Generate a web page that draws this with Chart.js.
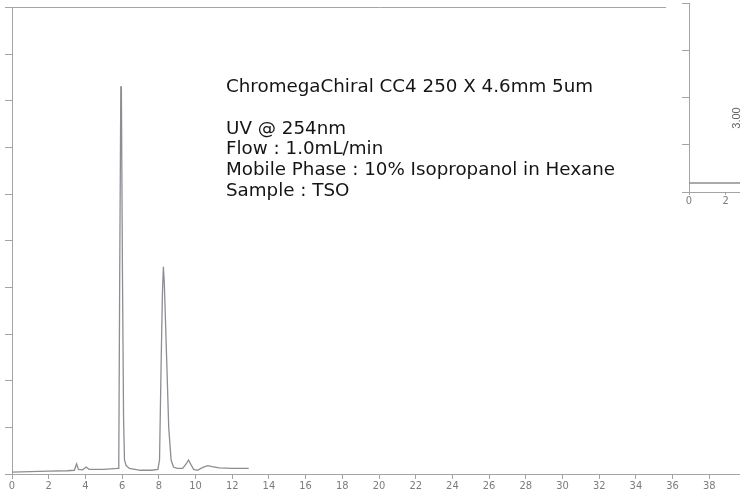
<!DOCTYPE html>
<html>
<head>
<meta charset="utf-8">
<script src="https://cdn.jsdelivr.net/npm/chart.js@4.4.1/dist/chart.umd.min.js"></script>
<style>
  html, body { margin: 0; padding: 0; background: #fff; overflow: hidden; width: 740px; height: 495px; }
  #mainChart { position: absolute; left: 0; top: 0; }
  #insetChart { position: absolute; left: 666px; top: 0; background: #fff; }
</style>
</head>
<body>
<canvas id="mainChart" width="760" height="495"></canvas>
<canvas id="insetChart" width="152" height="210"></canvas>
<script>
// main chromatogram (time in min, detector response)
const retentionTimes = [0, 1, 2, 3, 3.4, 3.52, 3.62, 3.85, 4.04, 4.2, 5.0, 5.78, 5.82, 5.87, 5.93, 5.96, 6.02, 6.08, 6.13, 6.22, 6.4,
  7.0, 7.6, 7.95, 8.04, 8.13, 8.2, 8.25, 8.3, 8.43, 8.54, 8.67, 8.8, 9.0, 9.3, 9.5, 9.62, 9.75, 9.9, 10.1, 10.4, 10.67, 10.9, 11.3, 12.0, 12.9];
const response = [0.04, 0.05, 0.06, 0.07, 0.08, 0.22, 0.10, 0.09, 0.15, 0.10, 0.10, 0.12, 0.3, 4.3, 8.3, 8.3, 4.3, 1.2, 0.3, 0.18, 0.12,
  0.08, 0.08, 0.1, 0.3, 2.45, 3.9, 4.44, 4.1, 2.45, 1.0, 0.3, 0.15, 0.12, 0.12, 0.22, 0.30, 0.2, 0.1, 0.08, 0.14, 0.18, 0.16, 0.13, 0.12, 0.12];
const timeTicks = [0, 2, 4, 6, 8, 10, 12, 14, 16, 18, 20, 22, 24, 26, 28, 30, 32, 34, 36, 38, 40];

// second (clipped) chromatogram on the right
const insetTimes = [0, 1, 2, 2.9, 3.0, 3.1];
const insetResponse = [0.19, 0.19, 0.19, 0.19, 6, 0.3];
const insetTicks = [0, 2, 4, 6];
const insetPeakTimes = [3.00];

const infoLines = [
  'ChromegaChiral CC4 250 X 4.6mm 5um',
  '',
  'UV @ 254nm',
  'Flow : 1.0mL/min',
  'Mobile Phase : 10% Isopropanol in Hexane',
  'Sample : TSO'
];

const tickFont = { family: '"Liberation Sans Narrow", "DejaVu Sans Condensed", sans-serif', size: 11 };
const axisColor = '#a4a4a4';
const traceColor = '#8c8e94';

const infoText = {
  id: 'infoText',
  afterDraw(chart) {
    const ctx = chart.ctx;
    ctx.save();
    ctx.fillStyle = '#151515';
    ctx.font = '18.3px "DejaVu Sans", Verdana, sans-serif';
    ctx.textBaseline = 'alphabetic';
    infoLines.forEach((line, i) => ctx.fillText(line, 226, 92 + i * 20.8));
    ctx.restore();
  }
};

new Chart(document.getElementById('mainChart'), {
  type: 'line',
  data: {
    datasets: [{
      data: retentionTimes.map((t, i) => ({ x: t, y: response[i] })),
      borderColor: traceColor,
      borderWidth: 1.3,
      pointRadius: 0,
      tension: 0,
      fill: false
    }]
  },
  options: {
    responsive: false,
    animation: false,
    layout: { padding: { top: 7.5, right: 14, left: 0, bottom: 0 } },
    plugins: { legend: { display: false }, tooltip: { enabled: false } },
    scales: {
      x: {
        type: 'linear', min: 0, max: 40, position: 'bottom',
        afterBuildTicks: s => { s.ticks = timeTicks.map(v => ({ value: v })); },
        afterFit: s => { s.height = 21; },
        ticks: { font: tickFont, color: '#7c7c7c', padding: 1, maxRotation: 0, autoSkip: false },
        grid: { drawOnChartArea: false, tickLength: 5, color: axisColor },
        border: { color: axisColor }
      },
      xTop: {
        type: 'linear', min: 0, max: 40, position: 'top',
        ticks: { display: false },
        grid: { drawOnChartArea: false, drawTicks: false },
        border: { color: axisColor }
      },
      y: {
        min: 0, max: 10,
        afterFit: s => { s.width = 12; },
        ticks: { display: false, stepSize: 1 },
        grid: { drawOnChartArea: false, tickLength: 7, color: axisColor },
        border: { color: axisColor }
      }
    }
  },
  plugins: [infoText]
});

const peakLabels = {
  id: 'peakLabels',
  afterDraw(chart) {
    const ctx = chart.ctx;
    const xs = chart.scales.x;
    ctx.save();
    ctx.fillStyle = '#666';
    ctx.font = '11px "Liberation Sans", Arial, sans-serif';
    ctx.textAlign = 'center';
    ctx.textBaseline = 'middle';
    insetPeakTimes.forEach(t => {
      ctx.save();
      ctx.translate(xs.getPixelForValue(t) - 7, 118);
      ctx.rotate(-Math.PI / 2);
      ctx.fillText(t.toFixed(2), 0, 0);
      ctx.restore();
    });
    ctx.restore();
  }
};

new Chart(document.getElementById('insetChart'), {
  type: 'line',
  data: {
    datasets: [{
      data: insetTimes.map((t, i) => ({ x: t, y: insetResponse[i] })),
      borderColor: traceColor,
      borderWidth: 1.3,
      pointRadius: 0,
      tension: 0,
      fill: false
    }]
  },
  options: {
    responsive: false,
    animation: false,
    layout: { padding: { top: 3, right: 1, left: 0, bottom: 0 } },
    plugins: { legend: { display: false }, tooltip: { enabled: false } },
    scales: {
      x: {
        type: 'linear', min: 0, max: 7, position: 'bottom',
        afterBuildTicks: s => { s.ticks = insetTicks.map(v => ({ value: v })); },
        afterFit: s => { s.height = 18; },
        ticks: { font: tickFont, color: '#7c7c7c', padding: 0, maxRotation: 0, autoSkip: false },
        grid: { drawOnChartArea: false, tickLength: 3, color: axisColor },
        border: { color: axisColor }
      },
      y: {
        min: 0, max: 4,
        afterFit: s => { s.width = 23; },
        ticks: { display: false, stepSize: 1 },
        grid: { drawOnChartArea: false, tickLength: 7, color: axisColor },
        border: { color: axisColor }
      }
    }
  },
  plugins: [peakLabels]
});
</script>
</body>
</html>
